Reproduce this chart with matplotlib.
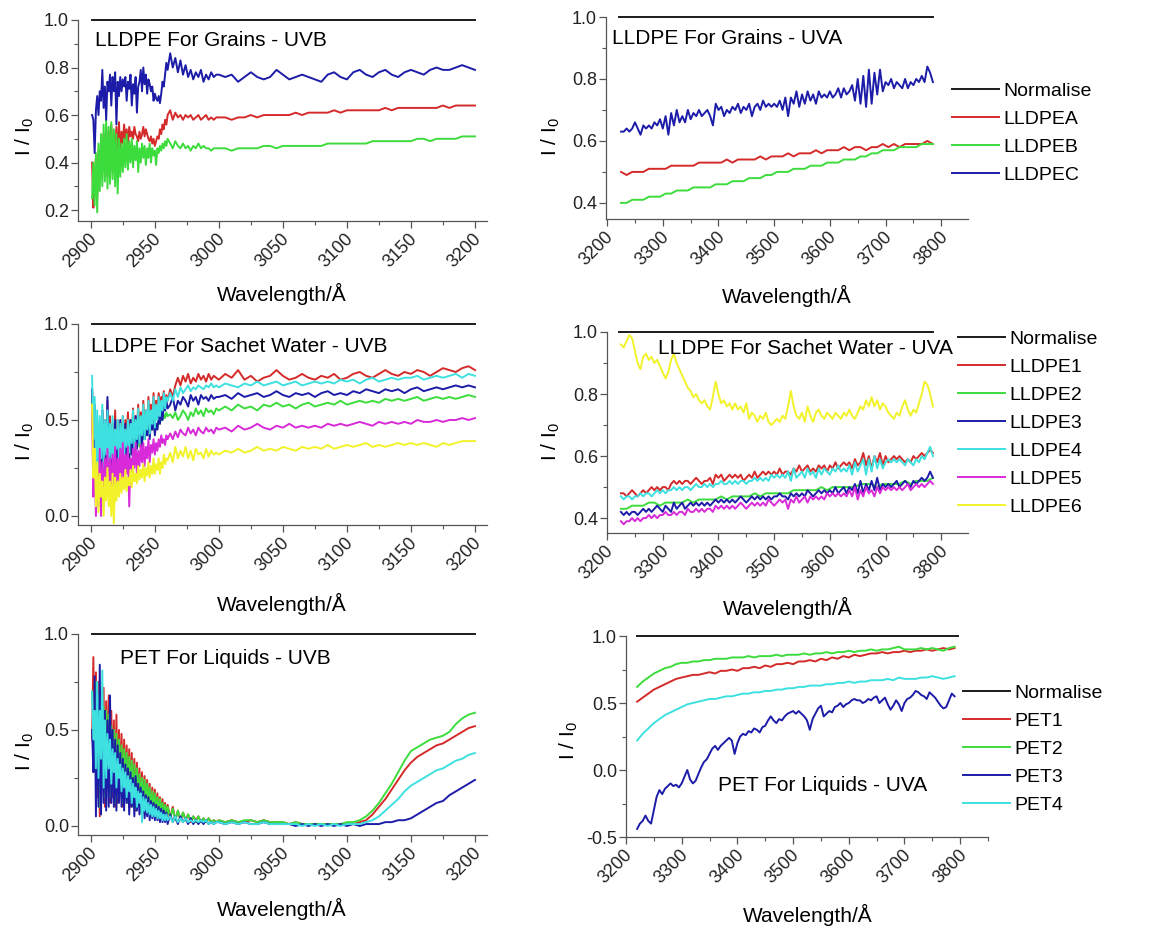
import matplotlib
matplotlib.use('Agg')
import matplotlib.pyplot as plt
from matplotlib.ticker import MultipleLocator
from matplotlib.transforms import ScaledTranslation

plt.rcParams['font.family'] = ['Liberation Sans', 'DejaVu Sans']

W, H = 1170, 930

# ---------------- wavelength sampling grids (Angstrom) ----------------
WL_UVB = list(range(2901, 2961)) + list(range(2962, 2999, 2)) + list(range(3000, 3201, 5))  # 120
WL_UVA = list(range(3225, 3786, 5))        # 113
WL_UVA_S = list(range(3225, 3786, 10))     # 57
WL_PET_UVA = list(range(3220, 3791, 5))    # 115
WL_PET_UVA_S = list(range(3220, 3791, 10)) # 58

NORM_VAL = [1.0, 1.0]
NORM_X_UVB = [2901, 3200]
NORM_X_GRAINS_UVA = [3222, 3785]
NORM_X_SACHET_UVA = [3222, 3786]
NORM_X_PET_UVA = [3220, 3796]

# ---------------- Panel 1: LLDPE for grains - UVB ----------------
G_UVB_A = [0.40, 0.21, 0.30, 0.42, 0.25, 0.45, 0.32, 0.50, 0.36, 0.52,
           0.38, 0.55, 0.34, 0.53, 0.40, 0.56, 0.36, 0.52, 0.42, 0.55,
           0.40, 0.57, 0.44, 0.53, 0.48, 0.56, 0.50, 0.54, 0.48, 0.55,
           0.51, 0.53, 0.50, 0.55, 0.52, 0.51, 0.49, 0.53, 0.50, 0.52,
           0.55, 0.51, 0.54, 0.52, 0.50, 0.49, 0.51, 0.48, 0.50, 0.47,
           0.49, 0.51, 0.50, 0.54, 0.52, 0.56, 0.54, 0.58, 0.56, 0.60,
           0.62, 0.58, 0.61, 0.59, 0.60, 0.58, 0.60, 0.59, 0.60, 0.58,
           0.59, 0.60, 0.58, 0.59, 0.60, 0.58, 0.59, 0.58, 0.59,
           0.59, 0.59, 0.58, 0.59, 0.59, 0.60, 0.59, 0.60, 0.60, 0.60,
           0.60, 0.60, 0.61, 0.60, 0.61, 0.61, 0.61, 0.61, 0.62, 0.61,
           0.62, 0.62, 0.62, 0.62, 0.62, 0.62, 0.63, 0.62, 0.63, 0.63,
           0.63, 0.63, 0.63, 0.63, 0.63, 0.64, 0.63, 0.64, 0.64, 0.64, 0.64]
G_UVB_B = [0.25, 0.40, 0.22, 0.44, 0.19, 0.48, 0.28, 0.52, 0.30, 0.56,
           0.32, 0.58, 0.29, 0.55, 0.31, 0.57, 0.33, 0.54, 0.30, 0.52,
           0.27, 0.50, 0.34, 0.48, 0.36, 0.50, 0.38, 0.52, 0.37, 0.49,
           0.40, 0.50, 0.38, 0.47, 0.41, 0.49, 0.36, 0.46, 0.40, 0.48,
           0.42, 0.47, 0.39, 0.46, 0.42, 0.48, 0.40, 0.46, 0.43, 0.45,
           0.39, 0.46, 0.44, 0.47, 0.45, 0.48, 0.46, 0.49, 0.47, 0.50,
           0.48, 0.46, 0.49, 0.47, 0.46, 0.48, 0.46, 0.47, 0.45, 0.47,
           0.46, 0.48, 0.46, 0.47, 0.46, 0.46, 0.45, 0.46, 0.46,
           0.46, 0.46, 0.45, 0.46, 0.46, 0.46, 0.46, 0.47, 0.47, 0.46,
           0.47, 0.47, 0.47, 0.47, 0.47, 0.47, 0.47, 0.48, 0.48, 0.48,
           0.48, 0.48, 0.48, 0.48, 0.49, 0.49, 0.49, 0.49, 0.49, 0.49,
           0.49, 0.50, 0.50, 0.49, 0.50, 0.50, 0.50, 0.50, 0.51, 0.51, 0.51]
G_UVB_C = [0.60, 0.58, 0.44, 0.62, 0.68, 0.60, 0.70, 0.66, 0.79, 0.63,
           0.72, 0.58, 0.74, 0.70, 0.77, 0.64, 0.76, 0.70, 0.78, 0.56,
           0.74, 0.68, 0.76, 0.70, 0.75, 0.72, 0.76, 0.66, 0.74, 0.71,
           0.77, 0.64, 0.73, 0.69, 0.76, 0.61, 0.72, 0.74, 0.79, 0.70,
           0.80, 0.73, 0.77, 0.69, 0.75, 0.73, 0.70, 0.72, 0.66, 0.69,
           0.67, 0.66, 0.68, 0.65, 0.69, 0.74, 0.72, 0.77, 0.82, 0.79,
           0.86, 0.80, 0.84, 0.78, 0.83, 0.77, 0.81, 0.76, 0.79, 0.75,
           0.78, 0.76, 0.79, 0.74, 0.77, 0.75, 0.78, 0.76, 0.77,
           0.77, 0.76, 0.77, 0.74, 0.76, 0.78, 0.76, 0.75, 0.76, 0.79,
           0.77, 0.75, 0.76, 0.77, 0.76, 0.75, 0.74, 0.77, 0.78, 0.76,
           0.75, 0.78, 0.79, 0.77, 0.76, 0.78, 0.79, 0.77, 0.76, 0.78,
           0.79, 0.78, 0.77, 0.79, 0.80, 0.79, 0.79, 0.80, 0.81, 0.80, 0.79]

# ---------------- Panel 2: LLDPE for grains - UVA ----------------
G_UVA_A = [0.50, 0.49, 0.50, 0.50, 0.50, 0.51, 0.51, 0.51, 0.51, 0.52,
           0.52, 0.52, 0.52, 0.52, 0.53, 0.53, 0.53, 0.53, 0.53, 0.54,
           0.53, 0.54, 0.54, 0.54, 0.54, 0.55, 0.54, 0.55, 0.55, 0.55,
           0.56, 0.55, 0.56, 0.56, 0.56, 0.57, 0.56, 0.57, 0.57, 0.57,
           0.58, 0.57, 0.58, 0.58, 0.57, 0.58, 0.58, 0.59, 0.58, 0.59,
           0.58, 0.59, 0.59, 0.59, 0.59, 0.60, 0.59]
G_UVA_B = [0.40, 0.40, 0.41, 0.41, 0.41, 0.42, 0.42, 0.42, 0.43, 0.43,
           0.44, 0.44, 0.44, 0.45, 0.45, 0.45, 0.45, 0.46, 0.46, 0.46,
           0.47, 0.47, 0.47, 0.48, 0.48, 0.48, 0.49, 0.49, 0.50, 0.50,
           0.50, 0.51, 0.51, 0.51, 0.52, 0.52, 0.52, 0.53, 0.53, 0.53,
           0.54, 0.54, 0.54, 0.55, 0.55, 0.56, 0.56, 0.57, 0.57, 0.57,
           0.58, 0.58, 0.58, 0.58, 0.59, 0.59, 0.59]
G_UVA_C = [0.63, 0.63, 0.64, 0.63, 0.64, 0.66, 0.64, 0.62, 0.65, 0.64,
           0.65, 0.64, 0.66, 0.65, 0.67, 0.64, 0.68, 0.62, 0.69, 0.65,
           0.70, 0.66, 0.68, 0.66, 0.70, 0.67, 0.69, 0.68, 0.70, 0.68,
           0.69, 0.70, 0.68, 0.65, 0.72, 0.70, 0.71, 0.68, 0.70, 0.69,
           0.71, 0.70, 0.72, 0.69, 0.71, 0.70, 0.72, 0.68, 0.71, 0.72,
           0.70, 0.73, 0.71, 0.72, 0.71, 0.72, 0.71, 0.73, 0.70, 0.74,
           0.68, 0.74, 0.72, 0.76, 0.71, 0.75, 0.72, 0.76, 0.73, 0.75,
           0.72, 0.76, 0.74, 0.75, 0.74, 0.76, 0.74, 0.75, 0.77, 0.74,
           0.77, 0.75, 0.76, 0.78, 0.73, 0.80, 0.72, 0.81, 0.71, 0.83,
           0.72, 0.82, 0.75, 0.83, 0.76, 0.79, 0.78, 0.80, 0.77, 0.79,
           0.78, 0.77, 0.80, 0.77, 0.79, 0.78, 0.80, 0.79, 0.81, 0.79,
           0.84, 0.82, 0.79]

# ---------------- Panel 3: LLDPE for sachet water - UVB ----------------
S_UVB_1 = [0.66, 0.30, 0.55, 0.20, 0.50, 0.25, 0.48, 0.30, 0.55, 0.28,
           0.50, 0.35, 0.60, 0.30, 0.52, 0.25, 0.48, 0.35, 0.55, 0.30,
           0.50, 0.32, 0.48, 0.38, 0.52, 0.36, 0.50, 0.40, 0.54, 0.38,
           0.50, 0.42, 0.56, 0.40, 0.52, 0.44, 0.58, 0.42, 0.54, 0.46,
           0.60, 0.45, 0.55, 0.48, 0.62, 0.50, 0.58, 0.52, 0.64, 0.50,
           0.60, 0.55, 0.64, 0.58, 0.62, 0.60, 0.65, 0.58, 0.63, 0.60,
           0.66, 0.62, 0.68, 0.72, 0.68, 0.73, 0.70, 0.74, 0.69, 0.72,
           0.70, 0.74, 0.71, 0.73, 0.70, 0.74, 0.71, 0.73, 0.72,
           0.71, 0.74, 0.72, 0.76, 0.71, 0.73, 0.70, 0.72, 0.73, 0.76,
           0.73, 0.71, 0.72, 0.74, 0.72, 0.71, 0.73, 0.72, 0.74, 0.71,
           0.72, 0.74, 0.75, 0.73, 0.72, 0.74, 0.76, 0.74, 0.73, 0.75,
           0.74, 0.76, 0.75, 0.73, 0.75, 0.77, 0.76, 0.75, 0.77, 0.78, 0.76]
S_UVB_2 = [0.60, 0.30, 0.50, 0.15, 0.42, 0.12, 0.38, 0.20, 0.45, 0.18,
           0.40, 0.22, 0.48, 0.20, 0.42, 0.15, 0.38, 0.22, 0.44, 0.20,
           0.40, 0.24, 0.44, 0.26, 0.42, 0.25, 0.44, 0.28, 0.42, 0.30,
           0.45, 0.32, 0.44, 0.33, 0.46, 0.35, 0.45, 0.36, 0.47, 0.38,
           0.48, 0.40, 0.47, 0.42, 0.50, 0.43, 0.48, 0.45, 0.50, 0.44,
           0.48, 0.46, 0.50, 0.48, 0.52, 0.50, 0.53, 0.51, 0.54, 0.52,
           0.53, 0.51, 0.54, 0.50, 0.52, 0.55, 0.53, 0.50, 0.54, 0.52,
           0.56, 0.53, 0.55, 0.52, 0.56, 0.54, 0.55, 0.53, 0.56,
           0.55, 0.57, 0.55, 0.58, 0.56, 0.57, 0.55, 0.58, 0.57, 0.59,
           0.57, 0.58, 0.56, 0.58, 0.59, 0.57, 0.58, 0.59, 0.58, 0.60,
           0.58, 0.59, 0.60, 0.59, 0.60, 0.59, 0.61, 0.60, 0.61, 0.60,
           0.61, 0.62, 0.60, 0.61, 0.62, 0.61, 0.62, 0.61, 0.62, 0.63, 0.62]
S_UVB_3 = [0.66, 0.35, 0.58, 0.15, 0.45, 0.10, 0.40, 0.20, 0.55, 0.15,
           0.45, 0.25, 0.62, 0.20, 0.48, 0.10, 0.42, 0.25, 0.50, 0.20,
           0.45, 0.22, 0.50, 0.28, 0.45, 0.25, 0.48, 0.30, 0.44, 0.28,
           0.50, 0.32, 0.46, 0.30, 0.52, 0.35, 0.48, 0.38, 0.50, 0.36,
           0.52, 0.40, 0.48, 0.42, 0.55, 0.40, 0.50, 0.45, 0.52, 0.42,
           0.48, 0.45, 0.52, 0.48, 0.55, 0.50, 0.58, 0.55, 0.60, 0.56,
           0.58, 0.62, 0.55, 0.60, 0.58, 0.62, 0.60, 0.57, 0.63, 0.60,
           0.62, 0.58, 0.63, 0.61, 0.62, 0.60, 0.63, 0.61, 0.62,
           0.62, 0.63, 0.61, 0.64, 0.62, 0.63, 0.64, 0.62, 0.63, 0.65,
           0.63, 0.62, 0.64, 0.63, 0.64, 0.62, 0.64, 0.65, 0.63, 0.64,
           0.63, 0.65, 0.64, 0.66, 0.65, 0.64, 0.66, 0.65, 0.66, 0.64,
           0.66, 0.67, 0.65, 0.66, 0.67, 0.66, 0.67, 0.68, 0.67, 0.68, 0.67]
S_UVB_4 = [0.73, 0.40, 0.62, 0.25, 0.55, 0.20, 0.52, 0.30, 0.58, 0.25,
           0.50, 0.32, 0.55, 0.28, 0.48, 0.30, 0.52, 0.22, 0.45, 0.35,
           0.50, 0.28, 0.48, 0.32, 0.52, 0.30, 0.45, 0.36, 0.50, 0.33,
           0.48, 0.38, 0.55, 0.35, 0.50, 0.40, 0.56, 0.38, 0.52, 0.42,
           0.58, 0.40, 0.55, 0.45, 0.60, 0.43, 0.55, 0.48, 0.62, 0.46,
           0.58, 0.50, 0.62, 0.52, 0.60, 0.55, 0.64, 0.56, 0.62, 0.60,
           0.64, 0.60, 0.66, 0.62, 0.67, 0.64, 0.66, 0.68, 0.65, 0.67,
           0.66, 0.68, 0.67, 0.66, 0.68, 0.67, 0.69, 0.67, 0.68,
           0.67, 0.69, 0.68, 0.67, 0.69, 0.68, 0.70, 0.68, 0.69, 0.70,
           0.68, 0.69, 0.70, 0.68, 0.69, 0.70, 0.69, 0.70, 0.69, 0.71,
           0.70, 0.71, 0.69, 0.71, 0.72, 0.70, 0.71, 0.72, 0.71, 0.72,
           0.72, 0.73, 0.71, 0.72, 0.73, 0.72, 0.73, 0.74, 0.72, 0.74, 0.73]
S_UVB_5 = [0.55, 0.10, 0.30, 0.00, 0.25, 0.05, 0.35, 0.00, 0.28, 0.08,
           0.30, 0.10, 0.35, 0.12, 0.30, 0.08, 0.32, 0.15, 0.36, 0.12,
           0.30, 0.18, 0.35, 0.20, 0.38, 0.15, 0.32, 0.22, 0.36, 0.05,
           0.30, 0.20, 0.35, 0.25, 0.38, 0.22, 0.34, 0.26, 0.37, 0.28,
           0.38, 0.26, 0.36, 0.30, 0.40, 0.28, 0.37, 0.33, 0.40, 0.32,
           0.38, 0.34, 0.40, 0.36, 0.42, 0.38, 0.40, 0.37, 0.42, 0.40,
           0.43, 0.40, 0.44, 0.41, 0.45, 0.43, 0.42, 0.46, 0.43, 0.45,
           0.42, 0.46, 0.44, 0.43, 0.46, 0.44, 0.45, 0.43, 0.46,
           0.45, 0.46, 0.44, 0.47, 0.45, 0.46, 0.48, 0.46, 0.45, 0.47,
           0.46, 0.48, 0.46, 0.47, 0.46, 0.47, 0.46, 0.48, 0.47, 0.48,
           0.47, 0.48, 0.49, 0.48, 0.47, 0.49, 0.48, 0.49, 0.48, 0.49,
           0.48, 0.50, 0.49, 0.49, 0.50, 0.49, 0.50, 0.50, 0.51, 0.50, 0.51]
S_UVB_6 = [0.58, 0.20, 0.35, 0.05, 0.28, 0.02, 0.22, 0.10, 0.18, 0.00,
           0.20, 0.08, 0.25, 0.05, 0.18, 0.00, 0.22, -0.04, 0.20, 0.08,
           0.18, 0.10, 0.22, 0.12, 0.20, 0.14, 0.24, 0.13, 0.20, 0.16,
           0.24, 0.15, 0.26, 0.18, 0.22, 0.17, 0.26, 0.19, 0.24, 0.20,
           0.27, 0.18, 0.25, 0.21, 0.28, 0.20, 0.26, 0.22, 0.30, 0.22,
           0.27, 0.24, 0.30, 0.22, 0.28, 0.25, 0.32, 0.27, 0.30, 0.29,
           0.33, 0.28, 0.36, 0.30, 0.34, 0.31, 0.36, 0.30, 0.34, 0.29,
           0.35, 0.32, 0.33, 0.30, 0.35, 0.31, 0.34, 0.32, 0.33,
           0.32, 0.34, 0.33, 0.35, 0.33, 0.34, 0.36, 0.34, 0.35, 0.34,
           0.36, 0.35, 0.34, 0.36, 0.35, 0.36, 0.35, 0.37, 0.35, 0.36,
           0.37, 0.36, 0.37, 0.38, 0.36, 0.37, 0.36, 0.37, 0.38, 0.37,
           0.38, 0.37, 0.38, 0.37, 0.36, 0.38, 0.37, 0.38, 0.39, 0.39, 0.39]

# ---------------- Panel 4: LLDPE for sachet water - UVA ----------------
S_UVA_1 = [0.48, 0.48, 0.47, 0.48, 0.49, 0.48, 0.47, 0.48, 0.49, 0.48,
           0.49, 0.50, 0.49, 0.50, 0.49, 0.50, 0.50, 0.49, 0.51, 0.52,
           0.51, 0.52, 0.51, 0.52, 0.52, 0.51, 0.52, 0.53, 0.52, 0.51,
           0.52, 0.52, 0.53, 0.51, 0.54, 0.53, 0.54, 0.52, 0.53, 0.54,
           0.53, 0.54, 0.53, 0.54, 0.52, 0.53, 0.54, 0.53, 0.55, 0.53,
           0.54, 0.55, 0.54, 0.55, 0.54, 0.55, 0.54, 0.56, 0.54, 0.55,
           0.55, 0.54, 0.56, 0.55, 0.57, 0.55, 0.56, 0.57, 0.55, 0.56,
           0.55, 0.57, 0.56, 0.57, 0.55, 0.57, 0.56, 0.58, 0.56, 0.57,
           0.58, 0.57, 0.58, 0.56, 0.59, 0.57, 0.58, 0.61, 0.57, 0.60,
           0.56, 0.60, 0.58, 0.61, 0.57, 0.60, 0.58, 0.59, 0.60, 0.59,
           0.60, 0.59, 0.58, 0.59, 0.58, 0.60, 0.59, 0.60, 0.61, 0.60,
           0.61, 0.62, 0.61]
S_UVA_2 = [0.43, 0.43, 0.44, 0.44, 0.44, 0.45, 0.45, 0.44, 0.45, 0.45,
           0.45, 0.45, 0.46, 0.45, 0.46, 0.46, 0.46, 0.46, 0.47, 0.46,
           0.47, 0.47, 0.47, 0.47, 0.48, 0.47, 0.48, 0.48, 0.48, 0.48,
           0.48, 0.49, 0.49, 0.49, 0.49, 0.49, 0.50, 0.49, 0.50, 0.50,
           0.50, 0.50, 0.50, 0.51, 0.51, 0.51, 0.50, 0.51, 0.51, 0.51,
           0.51, 0.52, 0.51, 0.52, 0.52, 0.52, 0.53]
S_UVA_3 = [0.42, 0.41, 0.42, 0.41, 0.42, 0.42, 0.41, 0.42, 0.43, 0.42,
           0.43, 0.42, 0.43, 0.44, 0.43, 0.42, 0.44, 0.43, 0.42, 0.45,
           0.43, 0.44, 0.45, 0.43, 0.44, 0.45, 0.44, 0.45, 0.44, 0.45,
           0.44, 0.45, 0.44, 0.45, 0.46, 0.45, 0.46, 0.45, 0.46, 0.45,
           0.46, 0.45, 0.46, 0.47, 0.46, 0.45, 0.46, 0.47, 0.46, 0.47,
           0.46, 0.47, 0.46, 0.47, 0.46, 0.47, 0.47, 0.48, 0.47, 0.47,
           0.46, 0.48, 0.47, 0.48, 0.47, 0.48, 0.47, 0.49, 0.48, 0.47,
           0.48, 0.49, 0.48, 0.49, 0.48, 0.49, 0.48, 0.50, 0.48, 0.49,
           0.50, 0.48, 0.50, 0.49, 0.51, 0.48, 0.52, 0.48, 0.51, 0.49,
           0.52, 0.49, 0.53, 0.49, 0.51, 0.50, 0.51, 0.50, 0.51, 0.52,
           0.50, 0.51, 0.52, 0.51, 0.50, 0.52, 0.51, 0.52, 0.53, 0.52,
           0.53, 0.55, 0.53]
S_UVA_4 = [0.47, 0.46, 0.47, 0.47, 0.46, 0.47, 0.47, 0.48, 0.47, 0.48,
           0.48, 0.47, 0.48, 0.49, 0.48, 0.49, 0.48, 0.49, 0.49, 0.50,
           0.49, 0.50, 0.49, 0.50, 0.50, 0.49, 0.50, 0.51, 0.50, 0.50,
           0.51, 0.50, 0.51, 0.50, 0.51, 0.51, 0.52, 0.51, 0.51, 0.52,
           0.51, 0.52, 0.51, 0.52, 0.52, 0.51, 0.52, 0.52, 0.53, 0.52,
           0.53, 0.52, 0.53, 0.52, 0.54, 0.53, 0.54, 0.53, 0.54, 0.53,
           0.55, 0.52, 0.56, 0.53, 0.54, 0.55, 0.53, 0.56, 0.54, 0.55,
           0.53, 0.56, 0.54, 0.56, 0.55, 0.54, 0.56, 0.55, 0.57, 0.55,
           0.56, 0.55, 0.57, 0.54, 0.58, 0.55, 0.57, 0.59, 0.54, 0.59,
           0.55, 0.60, 0.56, 0.59, 0.56, 0.58, 0.59, 0.58, 0.59, 0.58,
           0.59, 0.58, 0.57, 0.59, 0.58, 0.57, 0.59, 0.58, 0.60, 0.59,
           0.61, 0.63, 0.60]
S_UVA_5 = [0.39, 0.38, 0.39, 0.39, 0.40, 0.39, 0.40, 0.39, 0.40, 0.40,
           0.41, 0.40, 0.41, 0.40, 0.41, 0.41, 0.42, 0.41, 0.41, 0.42,
           0.41, 0.42, 0.42, 0.41, 0.43, 0.42, 0.42, 0.43, 0.42, 0.43,
           0.42, 0.43, 0.43, 0.42, 0.44, 0.43, 0.44, 0.43, 0.44, 0.43,
           0.44, 0.43, 0.44, 0.45, 0.44, 0.43, 0.44, 0.45, 0.44, 0.45,
           0.44, 0.45, 0.44, 0.46, 0.45, 0.44, 0.45, 0.46, 0.45, 0.46,
           0.43, 0.46, 0.45, 0.47, 0.45, 0.46, 0.47, 0.45, 0.47, 0.46,
           0.47, 0.46, 0.47, 0.46, 0.48, 0.47, 0.48, 0.47, 0.48, 0.47,
           0.48, 0.47, 0.49, 0.47, 0.50, 0.46, 0.49, 0.47, 0.50, 0.48,
           0.49, 0.47, 0.50, 0.48, 0.50, 0.49, 0.50, 0.49, 0.50, 0.49,
           0.50, 0.49, 0.50, 0.51, 0.49, 0.50, 0.51, 0.50, 0.51, 0.50,
           0.51, 0.52, 0.51]
S_UVA_6 = [0.96, 0.95, 0.97, 0.99, 0.98, 0.94, 0.90, 0.88, 0.92, 0.93,
           0.91, 0.92, 0.90, 0.91, 0.89, 0.87, 0.85, 0.87, 0.91, 0.93,
           0.90, 0.88, 0.86, 0.84, 0.82, 0.81, 0.79, 0.80, 0.78, 0.77,
           0.78, 0.76, 0.75, 0.79, 0.84, 0.80, 0.77, 0.78, 0.76, 0.77,
           0.75, 0.77, 0.75, 0.76, 0.74, 0.77, 0.72, 0.74, 0.73, 0.71,
           0.73, 0.72, 0.74, 0.71, 0.70, 0.71, 0.72, 0.71, 0.73, 0.72,
           0.76, 0.81, 0.76, 0.73, 0.72, 0.74, 0.71, 0.76, 0.73, 0.71,
           0.74, 0.75, 0.73, 0.72, 0.74, 0.73, 0.72, 0.74, 0.73, 0.72,
           0.74, 0.73, 0.75, 0.73, 0.72, 0.74, 0.76, 0.75, 0.78, 0.76,
           0.79, 0.76, 0.78, 0.75, 0.77, 0.76, 0.74, 0.73, 0.72, 0.74,
           0.73, 0.76, 0.78, 0.75, 0.73, 0.75, 0.74, 0.77, 0.80, 0.84,
           0.83, 0.80, 0.76]

# ---------------- Panel 5: PET for liquids - UVB ----------------
P_UVB_1 = [0.45, 0.88, 0.30, 0.80, 0.15, 0.75, 0.05, 0.70, 0.20, 0.72,
           0.10, 0.65, 0.25, 0.68, 0.12, 0.60, 0.15, 0.55, 0.10, 0.58,
           0.12, 0.50, 0.18, 0.48, 0.10, 0.45, 0.15, 0.42, 0.12, 0.40,
           0.10, 0.38, 0.12, 0.35, 0.08, 0.33, 0.10, 0.30, 0.07, 0.28,
           0.08, 0.26, 0.06, 0.24, 0.07, 0.22, 0.05, 0.20, 0.06, 0.19,
           0.05, 0.17, 0.05, 0.15, 0.04, 0.14, 0.05, 0.12, 0.04, 0.11,
           0.04, 0.10, 0.03, 0.08, 0.03, 0.07, 0.03, 0.06, 0.02, 0.05,
           0.03, 0.05, 0.02, 0.04, 0.02, 0.04, 0.02, 0.03, 0.02,
           0.03, 0.02, 0.03, 0.02, 0.02, 0.03, 0.02, 0.03, 0.02, 0.02,
           0.02, 0.01, 0.02, 0.01, 0.01, 0.01, 0.01, 0.01, 0.01, 0.01,
           0.01, 0.01, 0.02, 0.03, 0.06, 0.10, 0.14, 0.19, 0.24, 0.29,
           0.33, 0.36, 0.38, 0.40, 0.42, 0.43, 0.45, 0.47, 0.49, 0.51, 0.52]
P_UVB_2 = [0.70, 0.55, 0.40, 0.75, 0.20, 0.68, 0.10, 0.65, 0.22, 0.62,
           0.15, 0.60, 0.22, 0.58, 0.15, 0.52, 0.18, 0.50, 0.12, 0.48,
           0.15, 0.45, 0.18, 0.42, 0.12, 0.40, 0.15, 0.38, 0.12, 0.36,
           0.12, 0.34, 0.10, 0.32, 0.09, 0.30, 0.10, 0.27, 0.08, 0.25,
           0.08, 0.24, 0.07, 0.22, 0.08, 0.20, 0.06, 0.18, 0.06, 0.17,
           0.05, 0.15, 0.05, 0.14, 0.05, 0.12, 0.04, 0.11, 0.04, 0.10,
           0.04, 0.09, 0.03, 0.08, 0.03, 0.07, 0.03, 0.06, 0.03, 0.05,
           0.02, 0.05, 0.02, 0.04, 0.02, 0.04, 0.02, 0.03, 0.02,
           0.03, 0.02, 0.03, 0.02, 0.03, 0.03, 0.02, 0.03, 0.02, 0.02,
           0.02, 0.01, 0.02, 0.01, 0.01, 0.01, 0.01, 0.01, 0.01, 0.01,
           0.02, 0.02, 0.03, 0.05, 0.08, 0.12, 0.17, 0.22, 0.28, 0.34,
           0.39, 0.41, 0.43, 0.45, 0.46, 0.47, 0.49, 0.53, 0.56, 0.58, 0.59]
P_UVB_3 = [0.50, 0.28, 0.78, 0.05, 0.70, 0.10, 0.84, 0.06, 0.62, 0.12,
           0.60, 0.08, 0.55, 0.10, 0.68, 0.12, 0.50, 0.10, 0.45, 0.08,
           0.42, 0.12, 0.38, 0.10, 0.35, 0.08, 0.32, 0.12, 0.30, 0.06,
           0.28, 0.10, 0.25, 0.05, 0.26, 0.08, 0.22, 0.06, 0.20, 0.05,
           0.18, 0.04, 0.16, 0.05, 0.15, 0.03, 0.13, 0.04, 0.12, 0.03,
           0.11, 0.03, 0.10, 0.02, 0.09, 0.02, 0.08, 0.02, 0.07, 0.01,
           0.06, 0.02, 0.05, 0.01, 0.05, 0.02, 0.04, 0.01, 0.04, 0.01,
           0.03, 0.01, 0.03, 0.01, 0.03, 0.01, 0.02, 0.01, 0.02,
           0.02, 0.01, 0.02, 0.01, 0.02, 0.01, 0.01, 0.02, 0.01, 0.01,
           0.01, 0.01, 0.00, 0.01, 0.00, 0.01, 0.00, 0.01, 0.00, 0.01,
           0.00, 0.01, 0.00, 0.01, 0.01, 0.01, 0.02, 0.02, 0.03, 0.03,
           0.04, 0.06, 0.08, 0.10, 0.12, 0.13, 0.16, 0.18, 0.20, 0.22, 0.24]
P_UVB_4 = [0.70, 0.45, 0.60, 0.30, 0.75, 0.25, 0.60, 0.35, 0.81, 0.20,
           0.55, 0.25, 0.48, 0.30, 0.45, 0.22, 0.40, 0.28, 0.38, 0.20,
           0.35, 0.25, 0.32, 0.18, 0.30, 0.20, 0.28, 0.15, 0.26, 0.18,
           0.24, 0.12, 0.22, 0.15, 0.20, 0.10, 0.18, 0.12, 0.17, 0.02,
           0.15, 0.08, 0.14, 0.07, 0.12, 0.06, 0.11, 0.05, 0.10, 0.05,
           0.09, 0.04, 0.08, 0.04, 0.07, 0.03, 0.06, 0.03, 0.06, 0.03,
           0.05, 0.02, 0.05, 0.02, 0.04, 0.02, 0.04, 0.02, 0.03, 0.02,
           0.03, 0.02, 0.03, 0.02, 0.03, 0.01, 0.02, 0.01, 0.02,
           0.02, 0.01, 0.02, 0.01, 0.02, 0.01, 0.01, 0.02, 0.01, 0.01,
           0.01, 0.01, 0.01, 0.00, 0.01, 0.00, 0.01, 0.00, 0.01, 0.00,
           0.01, 0.01, 0.01, 0.02, 0.03, 0.05, 0.08, 0.11, 0.14, 0.18,
           0.21, 0.23, 0.25, 0.27, 0.29, 0.30, 0.32, 0.34, 0.35, 0.37, 0.38]

# ---------------- Panel 6: PET for liquids - UVA ----------------
P_UVA_1 = [0.51, 0.54, 0.57, 0.60, 0.62, 0.64, 0.66, 0.68, 0.69, 0.70,
           0.71, 0.71, 0.72, 0.73, 0.72, 0.74, 0.74, 0.75, 0.74, 0.76,
           0.76, 0.77, 0.76, 0.78, 0.77, 0.79, 0.79, 0.80, 0.79, 0.81,
           0.81, 0.82, 0.81, 0.83, 0.82, 0.84, 0.83, 0.85, 0.84, 0.86,
           0.85, 0.86, 0.87, 0.87, 0.88, 0.87, 0.88, 0.88, 0.89, 0.88,
           0.89, 0.89, 0.90, 0.89, 0.90, 0.91, 0.90, 0.91]
P_UVA_2 = [0.62, 0.66, 0.69, 0.72, 0.74, 0.76, 0.77, 0.79, 0.80, 0.80,
           0.81, 0.81, 0.82, 0.82, 0.83, 0.83, 0.83, 0.84, 0.84, 0.84,
           0.85, 0.84, 0.85, 0.85, 0.85, 0.86, 0.85, 0.86, 0.86, 0.86,
           0.87, 0.86, 0.87, 0.87, 0.88, 0.87, 0.88, 0.88, 0.89, 0.88,
           0.89, 0.89, 0.90, 0.89, 0.90, 0.90, 0.91, 0.92, 0.90, 0.90,
           0.90, 0.91, 0.90, 0.91, 0.90, 0.89, 0.91, 0.92]
P_UVA_3 = [-0.44, -0.40, -0.38, -0.34, -0.38, -0.40, -0.30, -0.20, -0.15, -0.18,
           -0.14, -0.12, -0.10, -0.12, -0.11, -0.13, -0.10, -0.05, 0.00, -0.07,
           -0.10, -0.08, -0.03, 0.02, 0.06, 0.08, 0.12, 0.16, 0.18, 0.15,
           0.18, 0.20, 0.22, 0.24, 0.22, 0.12, 0.20, 0.25, 0.27, 0.26,
           0.29, 0.28, 0.31, 0.30, 0.28, 0.32, 0.33, 0.37, 0.40, 0.37,
           0.35, 0.38, 0.37, 0.40, 0.42, 0.43, 0.44, 0.42, 0.44, 0.42,
           0.40, 0.37, 0.30, 0.38, 0.42, 0.46, 0.48, 0.40, 0.42, 0.44,
           0.43, 0.47, 0.48, 0.50, 0.47, 0.49, 0.50, 0.52, 0.53, 0.52,
           0.52, 0.50, 0.51, 0.53, 0.52, 0.54, 0.55, 0.50, 0.52, 0.54,
           0.49, 0.45, 0.48, 0.52, 0.49, 0.44, 0.50, 0.53, 0.54, 0.56,
           0.59, 0.58, 0.56, 0.55, 0.53, 0.58, 0.56, 0.54, 0.51, 0.48,
           0.46, 0.47, 0.52, 0.57, 0.55]
P_UVA_4 = [0.22, 0.27, 0.31, 0.35, 0.38, 0.41, 0.43, 0.45, 0.47, 0.49,
           0.50, 0.51, 0.52, 0.53, 0.53, 0.54, 0.55, 0.55, 0.56, 0.57,
           0.57, 0.58, 0.58, 0.59, 0.59, 0.60, 0.60, 0.61, 0.61, 0.62,
           0.62, 0.63, 0.63, 0.63, 0.64, 0.64, 0.65, 0.65, 0.66, 0.65,
           0.66, 0.66, 0.67, 0.67, 0.67, 0.68, 0.67, 0.69, 0.68, 0.68,
           0.68, 0.69, 0.69, 0.70, 0.69, 0.68, 0.69, 0.70]

# ---------------- styling ----------------
C_NORM = '#1a1a1a'
C_RED = '#d42a2a'
C_GREEN = '#3ddc3d'
C_BLUE = '#1c1ca8'
C_CYAN = '#3ee0e0'
C_MAG = '#d92ad9'
C_YEL = '#f2f22a'
LW = 1.4
FS_TICK = 13
FS_TEXT = 15
FS_LEG = 14

fig = plt.figure(figsize=(W / 100, H / 100), dpi=100)


def px(x, y):
    return x / W, 1 - y / H


def make_ax(left, right, top, bottom, xlim, ylim, xmaj, xmin, ymaj, ymin):
    ax = fig.add_axes([left / W, 1 - bottom / H, (right - left) / W, (bottom - top) / H])
    ax.set_xlim(*xlim)
    ax.set_ylim(*ylim)
    for s in ('top', 'right'):
        ax.spines[s].set_visible(False)
    for s in ('left', 'bottom'):
        ax.spines[s].set_color('#555555')
        ax.spines[s].set_linewidth(0.9)
    ax.xaxis.set_major_locator(MultipleLocator(xmaj))
    ax.xaxis.set_minor_locator(MultipleLocator(xmin))
    ax.yaxis.set_major_locator(MultipleLocator(ymaj))
    ax.yaxis.set_minor_locator(MultipleLocator(ymin))
    ax.tick_params(which='major', direction='out', length=5, width=0.9, color='#555555',
                   labelsize=FS_TICK, labelcolor='#222222')
    ax.tick_params(which='minor', direction='out', length=3, width=0.8, color='#555555')
    ax.tick_params(axis='y', pad=1.5)
    ax.tick_params(axis='x', pad=6)
    ax.yaxis.set_major_formatter(matplotlib.ticker.FormatStrFormatter('%.1f'))
    shift = ScaledTranslation(4 / 100, 0, fig.dpi_scale_trans)
    for lbl in ax.get_xticklabels():
        lbl.set_rotation(45)
        lbl.set_ha('right')
        lbl.set_va('center')
        lbl.set_rotation_mode('anchor')
        lbl.set_transform(lbl.get_transform() + shift)
    return ax


def label_axes(xl, yl):
    fig.text(*px(*xl), 'Wavelength/Å', fontsize=FS_TEXT, ha='center', va='center')
    fig.text(*px(*yl), 'I / I$_\\mathregular{0}$', fontsize=FS_TEXT, ha='center', va='center',
             rotation=90)


def plot_series(ax, series):
    handles = []
    for xs, ys, color, name in series:
        ln, = ax.plot(xs, ys, color=color, lw=LW, label=name, clip_on=False,
                      solid_joinstyle='round')
        handles.append(ln)
    return handles


def legend(ax, handles, x, y):
    ax.legend(handles=handles, loc='upper left', bbox_to_anchor=px(x, y),
              bbox_transform=fig.transFigure, frameon=False, borderpad=0,
              borderaxespad=0, handlelength=2.4, handletextpad=0.25,
              labelspacing=0.54, fontsize=FS_LEG)


# Panel 1
ax1 = make_ax(78, 487, 20, 221, (2890, 3209.4), (0.154, 1.0), 50, 25, 0.2, 0.1)
plot_series(ax1, [(NORM_X_UVB, NORM_VAL, C_NORM, 'Normalise'),
                  (WL_UVB, G_UVB_A, C_RED, 'LLDPEA'),
                  (WL_UVB, G_UVB_B, C_GREEN, 'LLDPEB'),
                  (WL_UVB, G_UVB_C, C_BLUE, 'LLDPEC')])
fig.text(*px(95, 40), 'LLDPE For Grains - UVB', fontsize=FS_TEXT, ha='left', va='center')
label_axes((282, 294), (25, 137))

# Panel 2
ax2 = make_ax(606, 968, 17, 219, (3198, 3848), (0.348, 1.0), 100, 50, 0.2, 0.1)
h2 = plot_series(ax2, [(NORM_X_GRAINS_UVA, NORM_VAL, C_NORM, 'Normalise'),
                       (WL_UVA_S, G_UVA_A, C_RED, 'LLDPEA'),
                       (WL_UVA_S, G_UVA_B, C_GREEN, 'LLDPEB'),
                       (WL_UVA, G_UVA_C, C_BLUE, 'LLDPEC')])
fig.text(*px(612, 39), 'LLDPE For Grains - UVA', fontsize=FS_TEXT, ha='left', va='center')
label_axes((787, 296), (551, 137))
legend(ax2, h2, 952, 82)

# Panel 3
ax3 = make_ax(78, 487, 324, 525, (2890, 3209.4), (-0.047, 1.0), 50, 25, 0.5, 0.25)
plot_series(ax3, [(NORM_X_UVB, NORM_VAL, C_NORM, 'Normalise'),
                  (WL_UVB, S_UVB_1, C_RED, 'LLDPE1'),
                  (WL_UVB, S_UVB_2, C_GREEN, 'LLDPE2'),
                  (WL_UVB, S_UVB_3, C_BLUE, 'LLDPE3'),
                  (WL_UVB, S_UVB_4, C_CYAN, 'LLDPE4'),
                  (WL_UVB, S_UVB_5, C_MAG, 'LLDPE5'),
                  (WL_UVB, S_UVB_6, C_YEL, 'LLDPE6')])
fig.text(*px(91, 346), 'LLDPE For Sachet Water - UVB', fontsize=FS_TEXT, ha='left', va='center')
label_axes((282, 604), (25, 442))

# Panel 4
ax4 = make_ax(607, 968, 332, 533, (3200, 3848), (0.352, 1.0), 100, 50, 0.2, 0.1)
h4 = plot_series(ax4, [(NORM_X_SACHET_UVA, NORM_VAL, C_NORM, 'Normalise'),
                       (WL_UVA, S_UVA_1, C_RED, 'LLDPE1'),
                       (WL_UVA_S, S_UVA_2, C_GREEN, 'LLDPE2'),
                       (WL_UVA, S_UVA_3, C_BLUE, 'LLDPE3'),
                       (WL_UVA, S_UVA_4, C_CYAN, 'LLDPE4'),
                       (WL_UVA, S_UVA_5, C_MAG, 'LLDPE5'),
                       (WL_UVA, S_UVA_6, C_YEL, 'LLDPE6')])
fig.text(*px(658, 348), 'LLDPE For Sachet Water - UVA', fontsize=FS_TEXT, ha='left', va='center')
label_axes((788, 608), (551, 442))
legend(ax4, h4, 958, 330)

# Panel 5
ax5 = make_ax(78, 487, 634, 835, (2890, 3209.4), (-0.047, 1.0), 50, 25, 0.5, 0.25)
plot_series(ax5, [(NORM_X_UVB, NORM_VAL, C_NORM, 'Normalise'),
                  (WL_UVB, P_UVB_1, C_RED, 'PET1'),
                  (WL_UVB, P_UVB_2, C_GREEN, 'PET2'),
                  (WL_UVB, P_UVB_3, C_BLUE, 'PET3'),
                  (WL_UVB, P_UVB_4, C_CYAN, 'PET4')])
fig.text(*px(120, 658), 'PET For Liquids - UVB', fontsize=FS_TEXT, ha='left', va='center')
label_axes((282, 909), (25, 752))

# Panel 6
ax6 = make_ax(626, 988, 636, 837, (3200, 3850), (-0.5, 1.0), 100, 50, 0.5, 0.25)
h6 = plot_series(ax6, [(NORM_X_PET_UVA, NORM_VAL, C_NORM, 'Normalise'),
                       (WL_PET_UVA_S, P_UVA_1, C_RED, 'PET1'),
                       (WL_PET_UVA_S, P_UVA_2, C_GREEN, 'PET2'),
                       (WL_PET_UVA, P_UVA_3, C_BLUE, 'PET3'),
                       (WL_PET_UVA_S, P_UVA_4, C_CYAN, 'PET4')])
fig.text(*px(718, 785), 'PET For Liquids - UVA', fontsize=FS_TEXT, ha='left', va='center')
label_axes((808, 915), (569, 741))
legend(ax6, h6, 963, 684)

fig.savefig('out.png', dpi=100)
